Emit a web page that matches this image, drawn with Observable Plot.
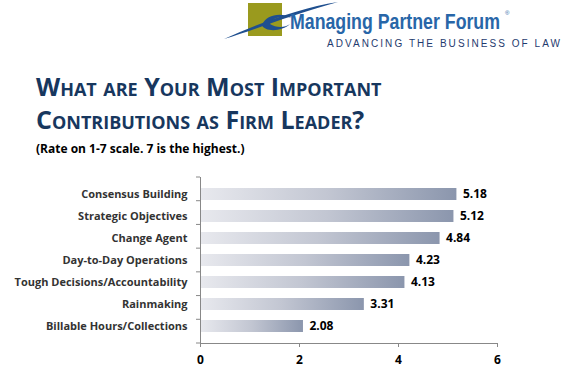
<!DOCTYPE html>
<html>
<head>
<meta charset="utf-8">
<script src="https://cdn.jsdelivr.net/npm/d3@7"></script>
<script src="https://cdn.jsdelivr.net/npm/@observablehq/plot@0.6"></script>
<style>
  html, body { margin: 0; padding: 0; background: #fff; }
  #page { position: relative; width: 568px; height: 379px; overflow: hidden; font-family: "Open Sans", "DejaVu Sans", sans-serif; }
  #logo { position: absolute; left: 0; top: 0; }
  #title { position: absolute; left: 36px; top: 70px; color: #17375e; font-weight: 700; font-size: 25px; line-height: 33px; font-variant: small-caps; letter-spacing: 0px; white-space: nowrap; }
  #subtitle { position: absolute; left: 36px; top: 140px; color: #000; font-weight: 700; font-size: 12px; white-space: nowrap; }
  #chart { position: absolute; left: 0; top: 170px; }
</style>
</head>
<body>
<div id="page">
  <svg id="logo" width="568" height="60">
    <rect x="248" y="3" width="34" height="33" fill="#9a9a1e"></rect>
    <path d="M224,39 C255,30 290,15 338,2 C300,8 262,22 224,39 Z" fill="#1f4f8f"></path>
    <path d="M262,25 C266,14 282,12 292,18 C284,15 272,17 270,24 C276,28 285,28 290,24 C282,32 264,32 262,25 Z" fill="#1f4f8f"></path>
    <text transform="translate(290,29) scale(1,1.3)" x="0" y="0" textLength="210" lengthAdjust="spacingAndGlyphs" font-family="Liberation Sans, Arial, sans-serif" font-weight="700" font-size="17" fill="#2866a8">Managing Partner Forum</text>
    <text x="505" y="15" font-family="Liberation Sans, Arial, sans-serif" font-size="6" fill="#2866a8">®</text>
    <text x="327" y="47" textLength="233" lengthAdjust="spacing" font-family="Liberation Sans, Arial, sans-serif" font-size="10" fill="#1f3b6e">ADVANCING THE BUSINESS OF LAW</text>
  </svg>
  <div id="title">What are Your Most Important<br>Contributions as Firm Leader?</div>
  <div id="subtitle">(Rate on 1-7 scale. 7 is the highest.)</div>
  <div id="chart"></div>
</div>
<script>
const categories = ["Consensus Building", "Strategic Objectives", "Change Agent", "Day-to-Day Operations", "Tough Decisions/Accountability", "Rainmaking", "Billable Hours/Collections"];
const values = [5.18, 5.12, 4.84, 4.23, 4.13, 3.31, 2.08];
const xTicks = [0, 2, 4, 6];

const data = categories.map((c, i) => ({category: c, value: values[i], label: values[i].toFixed(2)}));

const chart = Plot.plot({
  width: 568,
  height: 209,
  marginLeft: 200,
  marginRight: 71,
  marginTop: 7,
  marginBottom: 36,
  style: {fontFamily: "'Open Sans', sans-serif", background: "transparent"},
  x: {domain: [0, 6], ticks: xTicks, label: null},
  y: {domain: categories, label: null, padding: 0.45},
  marks: [
    () => {
      const svg = d3.create("svg:defs");
      const g = svg.append("linearGradient").attr("id", "barGrad").attr("x1", "0").attr("x2", "1").attr("y1", "0").attr("y2", "0");
      g.append("stop").attr("offset", "0").attr("stop-color", "#e8e9ee");
      g.append("stop").attr("offset", "0.5").attr("stop-color", "#c2c6d2");
      g.append("stop").attr("offset", "1").attr("stop-color", "#8b96ad");
      return svg.node();
    },
    Plot.barX(data, {x: "value", y: "category", fill: "url(#barGrad)"}),
    Plot.text(data, {x: "value", y: "category", text: "label", dx: 6, textAnchor: "start", fontWeight: 700, fontSize: 12, fill: "#000"}),
    Plot.frame({anchor: "left", stroke: "#888"}),
    Plot.frame({anchor: "bottom", stroke: "#888"}),
    (index, scales, values, dims) => {
      const g = d3.create("svg:g").attr("stroke", "#888");
      const top = dims.marginTop, bottom = dims.height - dims.marginBottom;
      const n = categories.length;
      for (let i = 0; i <= n; i++) {
        const yy = top + (bottom - top) * i / n;
        g.append("line").attr("x1", dims.marginLeft - 4).attr("x2", dims.marginLeft).attr("y1", yy).attr("y2", yy);
      }
      return g.node();
    },
    Plot.axisX({ticks: xTicks, tickFormat: "d", tickSize: 4, tickPadding: 8, stroke: "#888", fontWeight: 700, fontSize: 12, color: "#000", label: null}),
    Plot.axisY({tickSize: 0, tickPadding: 13, fontWeight: 700, fontSize: 11, color: "#333", label: null})
  ]
});
document.getElementById("chart").appendChild(chart);
</script>
</body>
</html>
